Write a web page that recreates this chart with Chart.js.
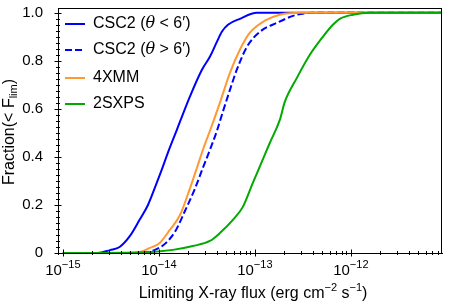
<!DOCTYPE html>
<html>
<head>
<meta charset="utf-8">
<script src="https://cdn.jsdelivr.net/npm/chart.js@4.4.1/dist/chart.umd.min.js"></script>
<style>
  html, body { margin: 0; padding: 0; background: #fff; }
</style>
</head>
<body>
<canvas id="myChart" width="463" height="303"></canvas>
<script>
const FONT = '"Liberation Sans", Arial, sans-serif';

// limiting flux (erg cm^-2 s^-1) vs cumulative fraction
const cscInFlux = [1.0e-15, 2.3e-15, 3.1e-15, 3.9e-15, 5.0e-15, 6.3e-15, 7.7e-15, 9.5e-15, 1.07e-14, 1.24e-14,
    1.54e-14, 2.10e-14, 2.81e-14, 3.40e-14, 4.02e-14, 4.53e-14, 5.24e-14, 6.98e-14, 1.05e-13, 8.9e-12];
const cscInFrac = [0, 0, 0.012, 0.025, 0.071, 0.138, 0.2, 0.292, 0.346, 0.417,
    0.513, 0.65, 0.763, 0.817, 0.879, 0.921, 0.95, 0.975, 1.0, 1.0];

const cscOutFlux = [1.0e-15, 6.3e-15, 9.1e-15, 1.155e-14, 1.47e-14, 1.87e-14, 2.37e-14, 2.87e-14, 3.40e-14, 4.02e-14,
    4.64e-14, 5.50e-14, 6.49e-14, 8.26e-14, 1.13e-13, 1.69e-13, 2.74e-13, 4.43e-13, 8.9e-12];
const cscOutFrac = [0, 0, 0.013, 0.038, 0.088, 0.175, 0.267, 0.354, 0.429, 0.508,
    0.588, 0.679, 0.763, 0.858, 0.921, 0.958, 0.992, 1.0, 1.0];

const xmmFlux = [1.0e-15, 3.9e-15, 6.3e-15, 8.05e-15, 1.02e-14, 1.30e-14, 1.66e-14, 2.10e-14, 2.49e-14, 2.87e-14,
    3.40e-14, 4.32e-14, 5.50e-14, 6.98e-14, 8.87e-14, 1.27e-13, 1.82e-13, 2.94e-13, 8.9e-12];
const xmmFrac = [0, 0, 0.004, 0.021, 0.042, 0.096, 0.158, 0.267, 0.354, 0.429,
    0.508, 0.625, 0.75, 0.846, 0.917, 0.967, 0.992, 1.0, 1.0];

const sxpsFlux = [1.0e-15, 6.3e-15, 1.40e-14, 2.26e-14, 3.40e-14, 4.32e-14, 5.90e-14, 7.50e-14, 9.53e-14, 1.18e-13,
    1.43e-13, 1.82e-13, 2.05e-13, 2.74e-13, 3.74e-13, 5.11e-13, 6.49e-13, 7.67e-13, 1.05e-12, 1.58e-12, 8.9e-12];
const sxpsFrac = [0, 0.002, 0.013, 0.029, 0.05, 0.083, 0.138, 0.192, 0.292, 0.379,
    0.458, 0.554, 0.629, 0.729, 0.825, 0.9, 0.95, 0.975, 0.992, 1.0, 1.0];

const xTicks = [1e-15, 1e-14, 1e-13, 1e-12];
const xTickExp = ['\u221215', '\u221214', '\u221213', '\u221212'];
const yTicks = [0, 0.2, 0.4, 0.6, 0.8, 1.0];
const yTickLabels = ['0', '0.2', '0.4', '0.6', '0.8', '1.0'];

const pts = (xs, ys) => xs.map((v, i) => ({ x: v, y: ys[i] }));

// draws a run of text pieces [text, fontSize, dy, italic] starting at x
function rich(ctx, parts, x, y, align) {
    let w = 0;
    parts.forEach(p => {
        ctx.font = (p[3] ? 'italic ' : '') + p[1] + 'px ' + (p[3] ? '"DejaVu Serif", serif' : FONT);
        w += ctx.measureText(p[0]).width;
    });
    let cx = align === 'center' ? x - w / 2 : x;
    parts.forEach(p => {
        ctx.font = (p[3] ? 'italic ' : '') + p[1] + 'px ' + (p[3] ? '"DejaVu Serif", serif' : FONT);
        ctx.fillText(p[0], cx, y + p[2]);
        cx += ctx.measureText(p[0]).width;
    });
}

const extras = {
    id: 'extras',
    afterDraw(chart) {
        const { ctx, chartArea: a, scales: { x, y } } = chart;
        ctx.save();
        ctx.strokeStyle = '#000';
        ctx.lineWidth = 1;
        ctx.strokeRect(a.left + 0.5, a.top + 0.5, a.right - a.left - 1, a.bottom - a.top);

        // tick marks
        ctx.beginPath();
        for (let e = -16; e <= -12; e++) {
            for (let k = 1; k <= 9; k++) {
                const v = k * Math.pow(10, e);
                if (v < x.min || v > x.max) continue;
                const px = Math.round(x.getPixelForValue(v)) + 0.5;
                const len = k === 1 ? 3.5 : 2;
                ctx.moveTo(px, a.bottom - len);
                ctx.lineTo(px, a.bottom + len);
            }
        }
        for (let i = 0; i <= 40; i++) {
            const v = i * 0.025;
            const py = Math.round(y.getPixelForValue(v)) + 0.5;
            const len = i % 8 === 0 ? 3.5 : 2;
            ctx.moveTo(a.left - len, py);
            ctx.lineTo(a.left + len, py);
        }
        ctx.stroke();

        ctx.fillStyle = '#000';
        ctx.textBaseline = 'alphabetic';
        // x tick labels
        xTicks.forEach((v, i) => {
            rich(ctx, [['10', 15, 0], ['', 0, 0], [xTickExp[i], 11, -7]], x.getPixelForValue(v), 275, 'center');
        });
        // x title
        rich(ctx, [['Limiting X-ray flux (erg cm', 16, 0], ['\u22122', 11, -7], [' s', 16, 0], ['\u22121', 11, -7], [')', 16, 0]],
            253, 298, 'center');
        // y title
        ctx.save();
        ctx.translate(14, 132);
        ctx.rotate(-Math.PI / 2);
        rich(ctx, [['Fraction(< F', 16, 0], ['lim', 11, 3], [')', 16, 0]], 0, 0, 'center');
        ctx.restore();

        // legend
        const rowY = [24, 50, 78, 104];
        chart.data.datasets.forEach((ds, i) => {
            ctx.strokeStyle = ds.borderColor;
            ctx.lineWidth = 2;
            ctx.setLineDash(ds.borderDash || []);
            ctx.beginPath();
            ctx.moveTo(a.left + 7, rowY[i]);
            ctx.lineTo(a.left + 27, rowY[i]);
            ctx.stroke();
            ctx.setLineDash([]);
            ctx.textBaseline = 'middle';
            const parts = ds.label.split('\u03b8');
            if (parts.length > 1) {
                rich(ctx, [[parts[0], 16, 0], ['\u03b8', 16, 0, true], [parts[1], 16, 0]], a.left + 35, rowY[i]);
            } else {
                rich(ctx, [[ds.label, 16, 0]], a.left + 35, rowY[i]);
            }
        });
        ctx.restore();
    }
};

const ctx = document.getElementById('myChart');

new Chart(ctx, {
    type: 'line',
    data: {
        datasets: [
            { label: 'CSC2 (\u03b8 < 6\u2032)', data: pts(cscInFlux, cscInFrac), borderColor: '#0000ff', order: 4 },
            { label: 'CSC2 (\u03b8 > 6\u2032)', data: pts(cscOutFlux, cscOutFrac), borderColor: '#0000ff', borderDash: [7, 3], order: 3 },
            { label: '4XMM', data: pts(xmmFlux, xmmFrac), borderColor: '#ff9933', order: 2 },
            { label: '2SXPS', data: pts(sxpsFlux, sxpsFrac), borderColor: '#00aa00', order: 1 }
        ]
    },
    options: {
        responsive: false,
        animation: false,
        devicePixelRatio: 1,
        elements: {
            line: { borderWidth: 2, cubicInterpolationMode: 'monotone', fill: false },
            point: { radius: 0 }
        },
        layout: { padding: { top: 8, right: 21, left: 0, bottom: 0 } },
        plugins: { legend: { display: false }, tooltip: { enabled: false } },
        scales: {
            x: {
                type: 'logarithmic',
                min: 8.9e-16,
                max: 8.9e-12,
                afterBuildTicks: s => { s.ticks = xTicks.map(v => ({ value: v })); },
                afterFit: s => { s.height = 50; s.paddingLeft = 0; s.paddingRight = 0; },
                ticks: { display: false },
                grid: { display: false },
                border: { color: '#000', width: 1 }
            },
            y: {
                type: 'linear',
                min: 0,
                max: 1.02,
                afterBuildTicks: s => { s.ticks = yTicks.map(v => ({ value: v })); },
                afterFit: s => { s.width = 58; s.paddingTop = 0; s.paddingBottom = 0; },
                ticks: {
                    callback: (v, i) => yTickLabels[i],
                    font: { family: FONT, size: 15 },
                    color: '#000',
                    padding: 7
                },
                grid: { display: false },
                border: { color: '#000', width: 1 }
            }
        }
    },
    plugins: [extras]
});
</script>
</body>
</html>
